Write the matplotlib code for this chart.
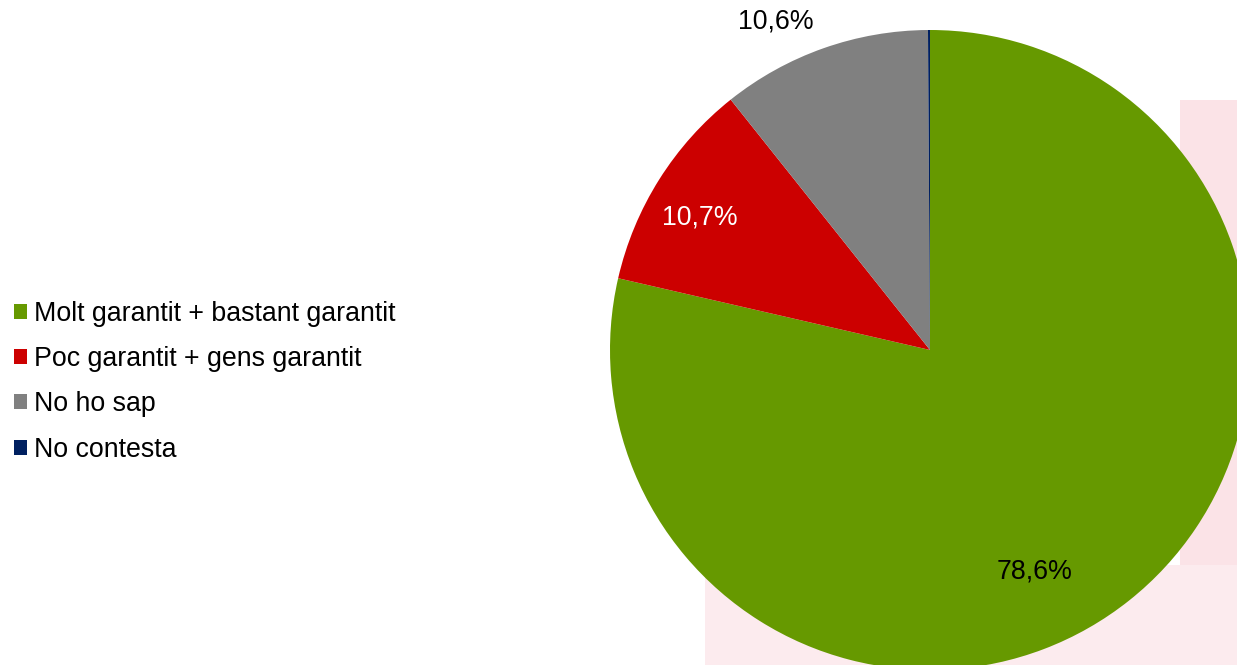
import matplotlib.pyplot as plt
from matplotlib.patches import Patch, Rectangle

categories = ["Molt garantit + bastant garantit", "Poc garantit + gens garantit", "No ho sap", "No contesta"]
values = [78.6, 10.7, 10.6, 0.1]
value_labels = ["78,6%", "10,7%", "10,6%", ""]
colors = ["#669900", "#cc0000", "#808080", "#002060"]

plt.rcParams['font.family'] = ['Liberation Sans', 'DejaVu Sans']

fig = plt.figure(figsize=(12.37, 6.65), dpi=100)
ax = fig.add_axes([0, 0, 1, 1])

# faded pink logo behind the pie
ax.add_patch(Rectangle((1180, 0), 70, 565, color="#fbe3e7", zorder=0, lw=0))
ax.add_patch(Rectangle((705, 0), 540, 100, color="#fcebee", zorder=0, lw=0))

ax.pie(values, colors=colors, startangle=90, counterclock=False,
       center=(930, 315), radius=320, frame=True,
       wedgeprops=dict(linewidth=0))
ax.set_xlim(0, 1237)
ax.set_ylim(0, 665)
ax.set_aspect('equal')
ax.axis('off')

# data labels
ax.text(1035, 665 - 572, value_labels[0], fontsize=19.3, ha='center', va='center', color='black')
ax.text(700, 665 - 217, value_labels[1], fontsize=19.3, ha='center', va='center', color='white')
ax.text(776, 665 - 22, value_labels[2], fontsize=19.3, ha='center', va='center', color='black')

handles = [Patch(facecolor=c, edgecolor='none') for c in colors]
fig.legend(handles, categories, loc='center left', bbox_to_anchor=(14 / 1237, 0.426),
           frameon=False, fontsize=19.3, handlelength=0.49, handleheight=0.49,
           handletextpad=0.26, labelspacing=0.72, borderaxespad=0.0, borderpad=0.0)

fig.savefig("out.png", dpi=100)
